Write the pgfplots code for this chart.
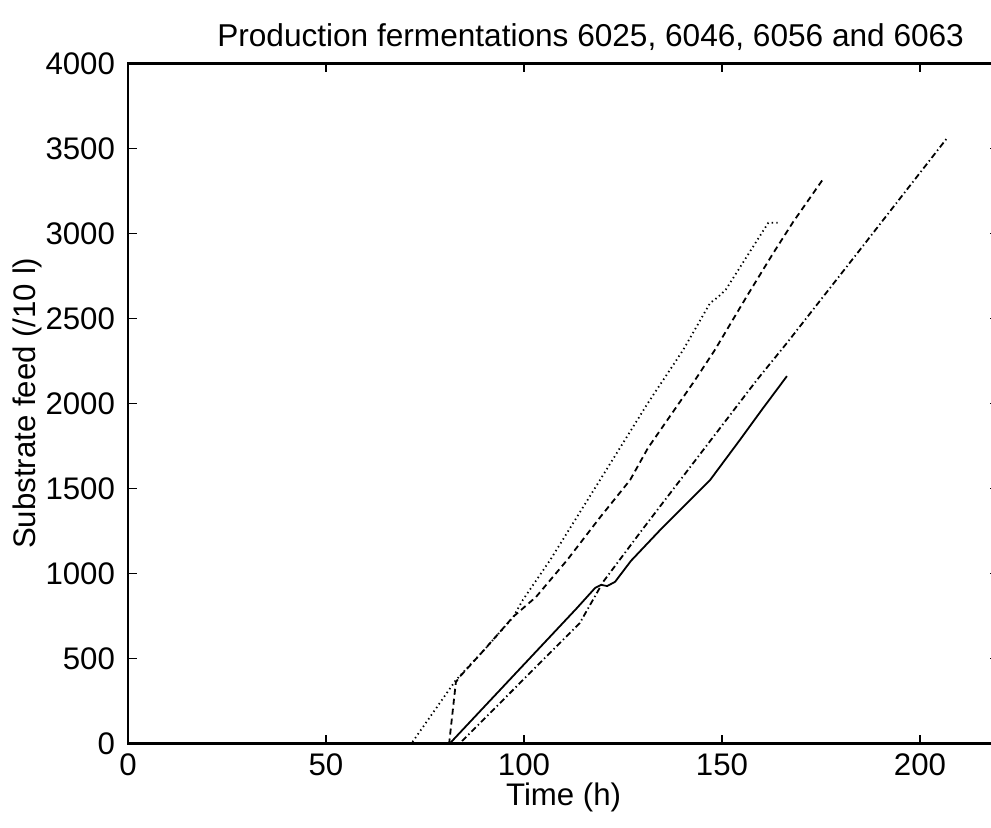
\documentclass[border=0pt]{standalone}
\usepackage{pgfplots}
\pgfplotsset{compat=1.18}
\usepackage{fontspec}
\setmainfont{Liberation Sans}
\begin{document}
\begin{tikzpicture}
\begin{axis}[
  at={(0,0)}, anchor=south west,
  scale only axis,
  width=435.6pt, height=340pt,
  xmin=0, xmax=220, ymin=0, ymax=4000,
  xtick={0,50,100,150,200},
  ytick={0,500,1000,1500,2000,2500,3000,3500,4000},
  tick align=inside,
  major tick length=4.4pt,
  tick style={black, line width=0.7pt},
  axis line style={line width=1.3pt},
  /pgf/number format/assume math mode=true,
  scaled ticks=false,
  yticklabel style={/pgf/number format/fixed, /pgf/number format/1000 sep={}, xshift=-3pt},
  xticklabel style={/pgf/number format/1000 sep={}, yshift=-1.5pt},
  ticklabel style={font=\fontsize{15.6}{18}\selectfont},
  title={Production fermentations 6025, 6046, 6056 and 6063},
  title style={font=\fontsize{15.8}{18}\selectfont, at={(axis description cs:0.5,1)}, anchor=base, yshift=2.5pt, xshift=13.5pt},
  xlabel={Time (h)},
  xlabel style={font=\fontsize{15.6}{18}\selectfont, at={(axis description cs:0.5,0)}, anchor=base, yshift=-31pt},
  ylabel={Substrate feed (/10 l)},
  ylabel style={font=\fontsize{15.6}{18}\selectfont, at={(axis description cs:-0.116,0.5)}, anchor=center},
  every axis plot/.append style={black, line width=0.9pt},
]
\addplot[solid] coordinates {
(0,0) (81.3,0) (90,216) (100,464) (113.3,794) (118,915) (119.5,932) (121,925) (123,950) (127,1073) (134.8,1265) (141,1409) (147,1549) (154.5,1784) (160,1960) (166.4,2160)
};
\addplot[dash pattern=on 0.7pt off 1.6pt] coordinates {
(0,0) (71.6,0) (82.8,372) (90,551) (97.3,743) (99.7,843) (106.6,1078) (115,1392) (131.3,2002) (140.2,2314) (147,2590) (149.1,2627) (151,2670) (159.2,2971) (161.7,3062) (164.2,3062)
};
\addplot[dash pattern=on 3pt off 2pt] coordinates {
(0,0) (81.1,0) (82.8,360) (83.8,392) (90,551) (97.3,745) (103,860) (110.9,1078) (119.2,1329) (126.8,1549) (131.3,1737) (143.2,2137) (148.2,2314) (156.2,2627) (162.9,2882) (168,3068) (175.5,3318)
};
\addplot[dash pattern=on 3pt off 1.5pt on 0.7pt off 1.5pt] coordinates {
(0,0) (83.8,0) (114.1,708) (120,950) (130.1,1264) (158.8,2137) (166.4,2355) (184.8,2902) (207.1,3568)
};
\end{axis}
\pgfresetboundingbox
\useasboundingbox (-64pt,-41.85pt) rectangle (431.5pt,371.65pt);
\end{tikzpicture}
\end{document}
